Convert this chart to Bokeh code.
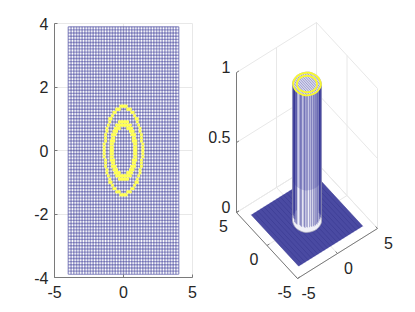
import numpy as np
from bokeh.plotting import figure
from bokeh.layouts import row, column
from bokeh.models import Range1d, FixedTicker
from bokeh.embed import file_html
from bokeh.resources import INLINE
from bokeh.core.properties import value

# ---- data ----
grid_x = [round(-4 + 0.2 * i, 1) for i in range(41)]
grid_y = [round(-3.9 + 0.1 * i, 1) for i in range(79)]
ring_x = [round(-1.6 + 0.1 * i, 1) for i in range(33)]
ring_y = grid_y
outer_band = [1.32, 1.42]
inner_band = [0.74, 0.98]
outer_ring_x = [0.0, 0.5, 1.0, 1.25, 1.35, 1.25, 1.0, 0.5, 0.0, -0.5, -1.0, -1.25, -1.35, -1.25, -1.0, -0.5, 0.0]
outer_ring_y = [1.35, 1.25, 0.95, 0.5, 0.0, -0.5, -0.95, -1.25, -1.35, -1.25, -0.95, -0.5, 0.0, 0.5, 0.95, 1.25, 1.35]
inner_ring_x = [0.0, 0.35, 0.7, 0.92, 1.0, 0.92, 0.7, 0.35, 0.0, -0.35, -0.7, -0.92, -1.0, -0.92, -0.7, -0.35, 0.0]
inner_ring_y = [1.0, 0.93, 0.7, 0.35, 0.0, -0.35, -0.7, -0.93, -1.0, -0.93, -0.7, -0.35, 0.0, 0.35, 0.7, 0.93, 1.0]
tower_radius = 1.42
tower_height = 0.975
tower_shade_from = 0.3
x_ticks = [-5, 0, 5]
y_ticks = [-4, -2, 0, 2, 4]
z_ticks = [0, 0.5, 1]
view_ticks = [-5, 0, 5]
FONT = "Liberation Sans"
TEXT = "#262626"
AXIS = "#7a7a7a"
GRID = "#e8e8e8"
BLUE = "#2a2a8e"
YELLOW = "#ffff55"

def smooth(xs, ys, n=12):
    a = np.unwrap(np.arctan2(ys, xs))
    r = np.hypot(xs, ys)
    t = np.linspace(0, len(a) - 1, (len(a) - 1) * n + 1)
    aa = np.interp(t, np.arange(len(a)), a)
    rr = np.interp(t, np.arange(len(a)), r)
    return rr * np.cos(aa), rr * np.sin(aa)

# ---- left: top view ----
p1 = figure(width=208, height=304, output_backend="svg", toolbar_location=None,
            x_range=Range1d(-5, 5), y_range=Range1d(-4, 4),
            min_border_left=54, min_border_right=16, min_border_top=23, min_border_bottom=27,
            background_fill_color="white", border_fill_color="white", outline_line_color=GRID)
for ax, ticks_ in ((p1.xaxis[0], x_ticks), (p1.yaxis[0], y_ticks)):
    ax.ticker = FixedTicker(ticks=ticks_)
    ax.major_label_overrides = {t: f"{t:g}" for t in ticks_}
    ax.major_tick_in, ax.major_tick_out = 3, 0
    ax.minor_tick_line_color = None
    ax.axis_line_color = AXIS
    ax.major_tick_line_color = AXIS
    ax.major_label_text_font = FONT
    ax.major_label_text_font_size = "16px"
    ax.major_label_text_color = TEXT
p1.xaxis[0].major_label_standoff = 8
p1.yaxis[0].major_label_standoff = 6
p1.grid.grid_line_color = GRID
p1.xgrid[0].ticker = FixedTicker(ticks=x_ticks)
p1.ygrid[0].ticker = FixedTicker(ticks=y_ticks)
gx = np.array(grid_x); gy = np.array(grid_y)
p1.segment(gx, gy.min(), gx, gy.max(), line_color=BLUE, line_width=1.6, line_alpha=0.42)
p1.segment(gx.min(), gy, gx.max(), gy, line_color=BLUE, line_width=1.4, line_alpha=0.42)
mx, my = np.meshgrid(gx, gy)
r = np.hypot(mx, my)
nx, ny = np.meshgrid(np.array(ring_x), np.array(ring_y))
nr = np.hypot(nx, ny)
sel = ((nr >= outer_band[0]) & (nr <= outer_band[1])) | ((nr >= inner_band[0]) & (nr <= inner_band[1]))
p1.scatter(nx[sel], ny[sel], marker="square", size=2.8, fill_color=YELLOW, line_color=None)

# ---- right: 3-D view, projected and drawn through the figure's scales ----
ORIGIN = np.array([306.5, 220.0]); EX = np.array([8.0, -5.0]); EY = np.array([-6.1, -6.6]); EZ = np.array([0.0, -140.0])
def proj(x, y, z):
    x, y, z = np.broadcast_arrays(np.asarray(x, float), np.asarray(y, float), np.asarray(z, float))
    return (ORIGIN[0] + x * EX[0] + y * EY[0] + z * EZ[0],
            ORIGIN[1] + x * EX[1] + y * EY[1] + z * EZ[1])

p2 = figure(width=199, height=304, output_backend="svg", toolbar_location=None,
            x_range=Range1d(208, 407), y_range=Range1d(304, 0),
            min_border=0, background_fill_color="white", border_fill_color="white", outline_line_color=None)
p2.axis.visible = False
p2.grid.visible = False

def seg(a, b, **kw):
    x0, y0 = proj(*a); x1, y1 = proj(*b)
    p2.segment(x0, y0, x1, y1, **kw)

L, H = 5, 5
vt = np.array(view_ticks, float); zt = np.array(z_ticks, float)
seg((vt, H, 0), (vt, H, 1), line_color=GRID, line_width=1)
seg((H, vt, 0), (H, vt, 1), line_color=GRID, line_width=1)
seg((-L, H, zt), (H, H, zt), line_color=GRID, line_width=1)
seg((H, H, zt), (H, -L, zt), line_color=GRID, line_width=1)
seg((vt, -L, 0), (vt, H, 0), line_color=GRID, line_width=1)
seg((-L, vt, 0), (H, vt, 0), line_color=GRID, line_width=1)
seg((-L, -L, 0), (H, -L, 0), line_color=AXIS, line_width=1)
seg((-L, -L, 0), (-L, H, 0), line_color=AXIS, line_width=1)
seg((-L, H, 0), (-L, H, 1), line_color=AXIS, line_width=1)
# plate
p2.patch(*proj([-4, 4, 4, -4], [-3.9, -3.9, 3.9, 3.9], 0), fill_color="#4a4aa2", fill_alpha=1, line_color=None)
p2.segment(*proj(gx[::2], gy.min(), 0), *proj(gx[::2], gy.max(), 0), line_color="#38388f", line_width=0.7, line_alpha=0.8)

# tower silhouette
wx, wy = smooth(outer_ring_x, outer_ring_y)
k = tower_radius / 1.35
def hull_of(z0, z1):
    ax_, ay_ = proj(wx * k, wy * k, z0)
    bx_, by_ = proj(wx * k, wy * k, z1)
    pts = sorted(set(zip(np.r_[ax_, bx_].round(3).tolist(), np.r_[ay_, by_].round(3).tolist())))
    def half(points):
        out = []
        for q in points:
            while len(out) > 1 and (out[-1][0]-out[-2][0])*(q[1]-out[-2][1]) - (out[-1][1]-out[-2][1])*(q[0]-out[-2][0]) <= 0:
                out.pop()
            out.append(q)
        return out[:-1]
    h = half(pts) + half(pts[::-1])
    return [q[0] for q in h], [q[1] for q in h]
p2.patch(*hull_of(0, tower_height), fill_color="#f0f0f8", line_color="#a8a8b8", line_width=0.8)
p2.patch(*hull_of(tower_shade_from, tower_height), fill_color="#c8c8e6", line_color=None)

# tower walls
rim = (r < tower_radius) & (r > tower_radius - 0.16) & ((-mx * 0.6 - my * 0.8) > -0.75)
rx, ry = mx[rim], my[rim]
bx, by = proj(rx, ry, 0.03)
tx, ty = proj(rx, ry, tower_height)
p2.segment(bx, by, tx, ty, line_color=BLUE, line_width=0.9, line_alpha=0.4)

# top mesh
inside = r < tower_radius - 0.05
p2.patch(*proj(wx, wy, tower_height), fill_color="#d8d8ee", line_color=None)
for i in range(0, len(gx)):
    s = inside[:, i]
    if s.any():
        p2.line(*proj(gx[i], gy[s], tower_height), line_color=BLUE, line_width=0.9, line_alpha=0.4)
ox, oy = smooth(outer_ring_x, outer_ring_y)
ix, iy = smooth(inner_ring_x, inner_ring_y)
p2.line(*proj(ox, oy, tower_height), line_color="#f8f830", line_width=1.9)
p2.line(*proj(ix, iy, tower_height), line_color="#f8f830", line_width=1.9)

# tick marks and labels
seg((vt, -L, 0), (vt, -L + 0.3, 0), line_color=AXIS, line_width=1)
seg((-L, vt, 0), (-L + 0.3, vt, 0), line_color=AXIS, line_width=1)
seg((-L, H, zt), (-L + 0.3, H, zt), line_color=AXIS, line_width=1)

kw = dict(text_font=value(FONT), text_font_size=value("16px"), text_color=TEXT,
          text_align="center", text_baseline="middle")
lx, ly = proj(vt, -L, 0)
p2.text(lx, ly, text=[f"{v:g}" for v in view_ticks], x_offset=11, y_offset=14, **kw)
lx, ly = proj(-L, vt, 0)
p2.text(lx, ly, text=[f"{v:g}" for v in view_ticks], x_offset=-13, y_offset=13, **kw)
lx, ly = proj(-L, H, zt)
p2.text(lx, ly, text=[f"{v:g}" for v in z_ticks], x_offset=-6, y_offset=-6, **{**kw, "text_align": "right"})

open("out.html", "w").write(file_html(row(column(p1), column(p2)), INLINE))
